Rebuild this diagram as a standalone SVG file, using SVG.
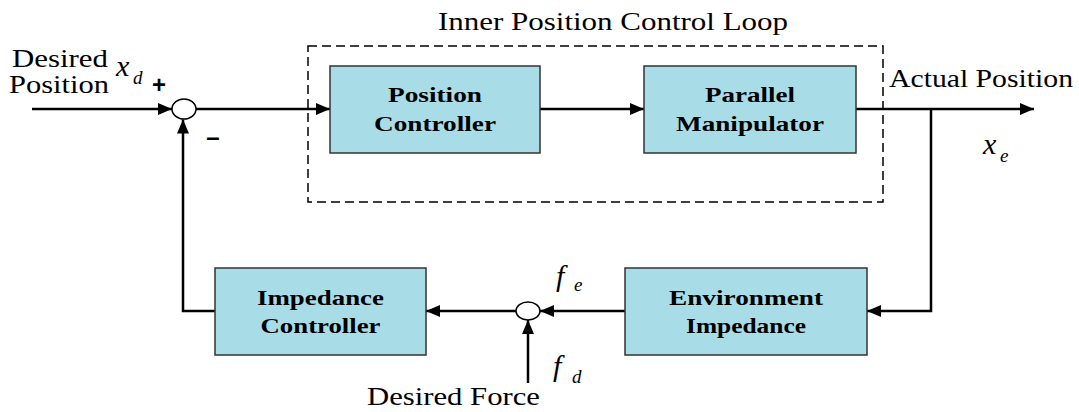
<svg xmlns="http://www.w3.org/2000/svg" width="1079" height="412" viewBox="0 0 1079 412">
<defs>
<marker id="arr" viewBox="0 0 14 12" refX="14" refY="6" markerWidth="14" markerHeight="12" markerUnits="userSpaceOnUse" orient="auto">
<path d="M0,0 L14,6 L0,12 Z" fill="#000"/>
</marker>
<style>
.box{fill:#A8DDE8;stroke:#333;stroke-width:1.5}
.ln{fill:none;stroke:#000;stroke-width:2.5}
.sum{fill:#fff;stroke:#000;stroke-width:1.5}
.bt{font-weight:bold;font-size:21px;fill:#000}
.t{font-size:25px;fill:#000}
.m{font-style:italic;font-size:30px;fill:#000}
.s{font-style:italic;font-size:19px;fill:#000}
.sign{font-weight:bold;font-size:24px;fill:#000}
</style>
</defs>
<rect width="1079" height="412" fill="#fff"/>

<g id="inner-loop" font-family="Liberation Serif">
<rect x="308" y="46" width="575" height="156" fill="none" stroke="#000" stroke-width="1.5" stroke-dasharray="9,5"/>
<text class="t" x="613" y="30" text-anchor="middle" textLength="350" lengthAdjust="spacingAndGlyphs">Inner Position Control Loop</text>
</g>

<g id="connectors">
<line class="ln" x1="32" y1="109" x2="172" y2="109" marker-end="url(#arr)"/>
<line class="ln" x1="196" y1="109" x2="330" y2="109" marker-end="url(#arr)"/>
<line class="ln" x1="540" y1="109" x2="644" y2="109" marker-end="url(#arr)"/>
<line class="ln" x1="856" y1="109" x2="1034" y2="109" marker-end="url(#arr)"/>
<polyline class="ln" points="931,109 931,311 867,311" marker-end="url(#arr)"/>
<line class="ln" x1="625" y1="311" x2="540" y2="311" marker-end="url(#arr)"/>
<line class="ln" x1="516" y1="311" x2="426" y2="311" marker-end="url(#arr)"/>
<polyline class="ln" points="215,311 183,311 183,119.5" marker-end="url(#arr)"/>
<line class="ln" x1="528" y1="383" x2="528" y2="320" marker-end="url(#arr)"/>
</g>

<g id="sum1" font-family="Liberation Sans">
<ellipse class="sum" cx="184" cy="109" rx="12" ry="10"/>
<text class="sign" x="159" y="93" text-anchor="middle">+</text>
<text class="sign" x="213" y="145" text-anchor="middle">–</text>
</g>

<g id="sum2">
<ellipse class="sum" cx="528" cy="311" rx="12" ry="9"/>
</g>

<g id="position-controller" font-family="Liberation Serif">
<rect class="box" x="330" y="66" width="210" height="87"/>
<text class="bt" x="435" y="102" text-anchor="middle" textLength="94" lengthAdjust="spacingAndGlyphs">Position</text>
<text class="bt" x="435" y="131" text-anchor="middle" textLength="122" lengthAdjust="spacingAndGlyphs">Controller</text>
</g>

<g id="parallel-manipulator" font-family="Liberation Serif">
<rect class="box" x="644" y="66" width="212" height="87"/>
<text class="bt" x="750" y="102" text-anchor="middle" textLength="90" lengthAdjust="spacingAndGlyphs">Parallel</text>
<text class="bt" x="750" y="131" text-anchor="middle" textLength="148" lengthAdjust="spacingAndGlyphs">Manipulator</text>
</g>

<g id="impedance-controller" font-family="Liberation Serif">
<rect class="box" x="215" y="268" width="211" height="87"/>
<text class="bt" x="320.5" y="305" text-anchor="middle" textLength="127" lengthAdjust="spacingAndGlyphs">Impedance</text>
<text class="bt" x="320.5" y="333" text-anchor="middle" textLength="120" lengthAdjust="spacingAndGlyphs">Controller</text>
</g>

<g id="environment-impedance" font-family="Liberation Serif">
<rect class="box" x="625" y="268" width="242" height="87"/>
<text class="bt" x="746" y="305" text-anchor="middle" textLength="154" lengthAdjust="spacingAndGlyphs">Environment</text>
<text class="bt" x="746" y="333" text-anchor="middle" textLength="120" lengthAdjust="spacingAndGlyphs">Impedance</text>
</g>

<g id="labels" font-family="Liberation Serif">
<text class="t" x="12" y="67" textLength="96" lengthAdjust="spacingAndGlyphs">Desired</text>
<text class="t" x="9" y="93" textLength="100" lengthAdjust="spacingAndGlyphs">Position</text>
<text class="m" x="116" y="76">x</text>
<text class="s" x="133" y="84">d</text>
<text class="t" x="889" y="87" textLength="184" lengthAdjust="spacingAndGlyphs">Actual Position</text>
<text class="m" x="983" y="154">x</text>
<text class="s" x="1000" y="162">e</text>
<text class="m" x="556" y="286">f</text>
<text class="s" x="574" y="291">e</text>
<text class="m" x="553" y="376">f</text>
<text class="s" x="572" y="383">d</text>
<text class="t" x="367" y="405" textLength="173" lengthAdjust="spacingAndGlyphs">Desired Force</text>
</g>
</svg>
